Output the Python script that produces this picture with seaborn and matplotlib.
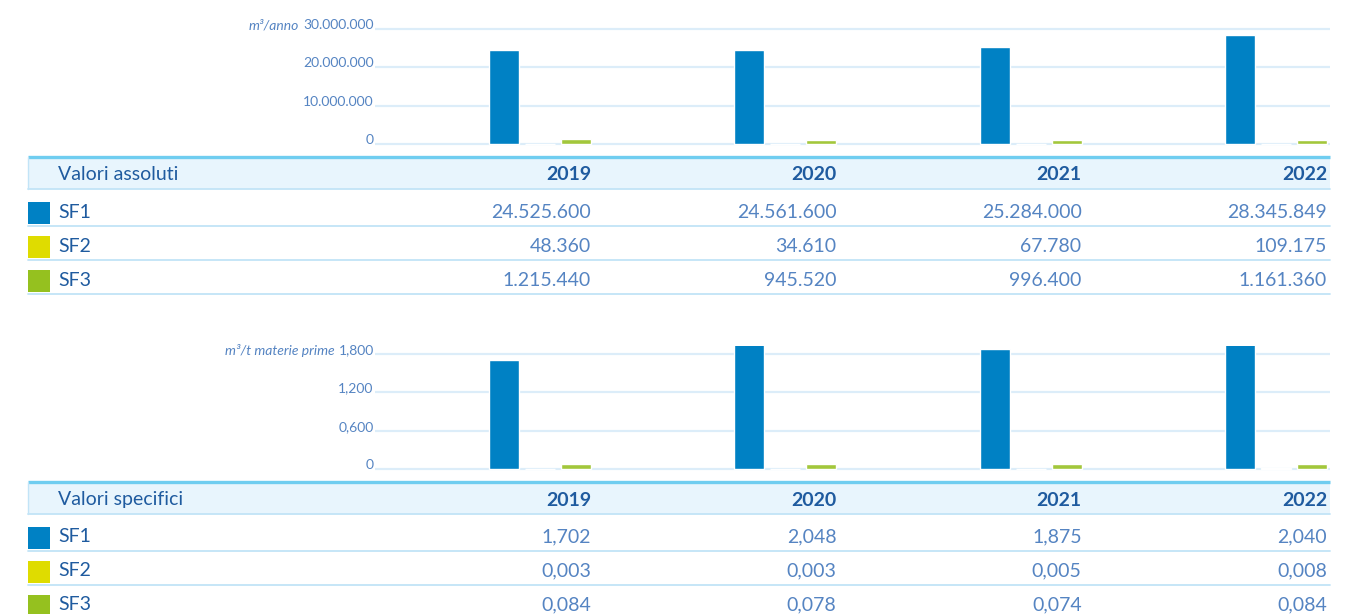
import matplotlib
matplotlib.use("Agg")
import matplotlib.pyplot as plt
import seaborn as sns
import pandas as pd

# ---- data -------------------------------------------------------------
anni = ["2019", "2020", "2021", "2022"]
serie = ["SF1", "SF2", "SF3"]
assoluti_sf1 = [24525600, 24561600, 25284000, 28345849]
assoluti_sf2 = [48360, 34610, 67780, 109175]
assoluti_sf3 = [1215440, 945520, 996400, 1161360]
specifici_sf1 = [1.702, 2.048, 1.875, 2.040]
specifici_sf2 = [0.003, 0.003, 0.005, 0.008]
specifici_sf3 = [0.084, 0.078, 0.074, 0.084]
tick_assoluti = [0, 10000000, 20000000, 30000000]
tick_specifici = [0, 0.6, 1.2, 1.8]

colori = {"SF1": "#0081c4", "SF2": "#dfdc00", "SF3": "#a2c73b"}
quadrati = {"SF1": "#0081c4", "SF2": "#dfdc00", "SF3": "#95c11f"}
BLU_SCURO = "#1f5b9f"
BLU_TESTO = "#5584c2"
GRIGLIA = "#dcedf9"
FASCIA = "#e8f5fd"
BORDO = "#6fcdf0"
RIGA = "#c2e4f7"

sns.set_theme(style="white")
plt.rcParams["font.family"] = ["Lato", "DejaVu Sans"]

W, H = 1354, 614
fig = plt.figure(figsize=(W / 100, H / 100), dpi=100)
fig.patch.set_facecolor("white")

# layout in pixels
X_LEFT, X_RIGHT = 375, 1330
X0_CAT, X_STEP = 540.0, 245.3          # pixel centre of first group, pixels per category
GROUP_W = 108 / X_STEP                 # dodge width of a group
GAP = 6 / 36


def fig_rect(x0, y0, x1, y1):
    return [x0 / W, 1 - y1 / H, (x1 - x0) / W, (y1 - y0) / H]


# overlay in pixel coordinates for the tables
tab = fig.add_axes([0, 0, 1, 1], zorder=0)
tab.set_xlim(0, W)
tab.set_ylim(H, 0)
tab.axis("off")

unit_labels = []


def bar_panel(valori, ticks, fmt, y_top, y_zero, unita):
    pad_top, pad_bot = 8, 3
    ax = fig.add_axes(fig_rect(X_LEFT, y_top - pad_top, X_RIGHT, y_zero + pad_bot), zorder=2)
    ax.patch.set_alpha(0)
    df = pd.DataFrame(
        [(a, s, v) for s, vals in zip(serie, valori) for a, v in zip(anni, vals)],
        columns=["anno", "serie", "valore"],
    )
    sns.barplot(data=df, x="anno", y="valore", hue="serie", order=anni,
                hue_order=serie, palette=colori, width=GROUP_W, gap=GAP,
                saturation=1, legend=False, ax=ax, zorder=3)
    top = ticks[-1]
    per_px = top / (y_zero - y_top)
    ax.set_ylim(-pad_bot * per_px, top + pad_top * per_px)
    ax.set_xlim((X_LEFT - X0_CAT) / X_STEP, (X_RIGHT - X0_CAT) / X_STEP)
    ax.set_yticks(ticks)
    ax.set_yticklabels([fmt(t) for t in ticks])
    ax.set_xticks([])
    ax.set_xlabel("")
    ax.set_ylabel("")
    for sp in ax.spines.values():
        sp.set_visible(False)
    ax.tick_params(axis="y", length=0, pad=1, labelsize=10, labelcolor=BLU_TESTO)
    plt.setp(ax.get_yticklabels(), va="baseline")
    for t in ticks:
        ax.axhline(t, color=GRIGLIA, lw=1.6, zorder=1)
    unit_labels.append((ax, y_top, unita))
    return ax


def fmt_assoluto(v):
    return "0" if v == 0 else f"{int(v):,}".replace(",", ".")


def fmt_specifico(v):
    return "0" if v == 0 else f"{v:.3f}".replace(".", ",")


def table(y_head, titolo, valori, fmt):
    x_a, x_b = 28, 1330
    hb_top, hb_bot = y_head - 18, y_head + 14
    tab.add_patch(plt.Rectangle((x_a, hb_top), x_b - x_a, hb_bot - hb_top,
                                facecolor=FASCIA, edgecolor="none"))
    tab.plot([x_a, x_b], [hb_top, hb_top], color=BORDO, lw=2.4, solid_capstyle="butt")
    tab.plot([x_a, x_a], [hb_top, hb_bot], color=RIGA, lw=1)
    tab.plot([x_a, x_b], [hb_bot, hb_bot], color=RIGA, lw=1.3)
    tab.text(58, y_head, titolo, ha="left", va="center", fontsize=14,
             color=BLU_SCURO)
    col_x = [X0_CAT + i * X_STEP + 51 for i in range(len(anni))]
    for x, a in zip(col_x, anni):
        tab.text(x, y_head, a, ha="right", va="center", fontsize=14,
                 fontweight="bold", color=BLU_SCURO)
    for r, (s, vals) in enumerate(zip(serie, valori)):
        yc = y_head + 37 + r * 34
        tab.add_patch(plt.Rectangle((x_a, yc - 10), 22, 22,
                                    facecolor=quadrati[s], edgecolor="none"))
        tab.text(58, yc, s, ha="left", va="center", fontsize=14, color=BLU_SCURO)
        for x, v in zip(col_x, vals):
            tab.text(x, yc, fmt(v), ha="right", va="center", fontsize=14,
                     color=BLU_TESTO)
        tab.plot([x_a, x_b], [yc + 14, yc + 14], color=RIGA, lw=1.3)


assoluti = [assoluti_sf1, assoluti_sf2, assoluti_sf3]
specifici = [specifici_sf1, specifici_sf2, specifici_sf3]

bar_panel(assoluti, tick_assoluti, fmt_assoluto, 29, 144, "m³/anno")
table(175, "Valori assoluti", assoluti, fmt_assoluto)

bar_panel(specifici, tick_specifici, fmt_specifico, 354, 469, "m³/t materie prime")
table(500, "Valori specifici", specifici, fmt_specifico)

# unit captions sit just left of the top tick label of each bar axis
fig.canvas.draw()
renderer = fig.canvas.get_renderer()
for ax, y_top, unita in unit_labels:
    top_label = ax.get_yticklabels()[-1]
    bb = top_label.get_window_extent(renderer)
    x_px = bb.x0 - 4
    tab.text(x_px, y_top + 1, unita, ha="right", va="baseline", fontsize=10,
             style="italic", color=BLU_TESTO)

fig.savefig("out.png", dpi=100, facecolor="white")
